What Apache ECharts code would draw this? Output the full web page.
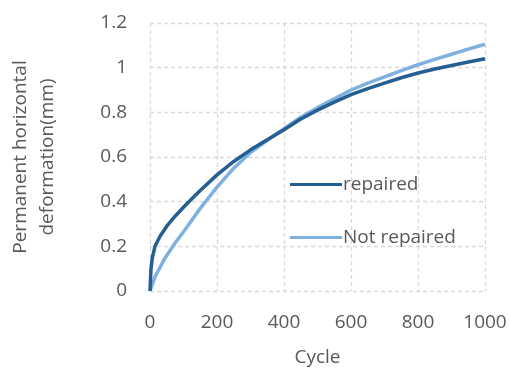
<!DOCTYPE html>
<html><head><meta charset="utf-8">
<script src="https://cdn.jsdelivr.net/npm/echarts@6/dist/echarts.min.js"></script>
<style>html,body{margin:0;padding:0;background:#fff}#c{width:509px;height:370px}</style>
</head><body><div id="c"></div>
<script>
const repairedCycles = [0,3,7,15,30,50,75,100,125,150,200,250,300,350,400,450,500,550,600,650,700,750,800,850,900,950,1000];
const repairedValues = [0,0.10,0.15,0.20,0.245,0.29,0.335,0.375,0.413,0.45,0.52,0.58,0.632,0.677,0.722,0.77,0.81,0.846,0.879,0.906,0.931,0.955,0.976,0.994,1.01,1.025,1.04];
const notRepairedCycles = [0,15,45,75,100,150,200,250,300,350,400,450,500,550,600,650,700,750,800,850,900,950,1000];
const notRepairedValues = [0,0.064,0.148,0.215,0.265,0.37,0.465,0.55,0.62,0.675,0.727,0.778,0.821,0.861,0.9,0.931,0.959,0.987,1.013,1.037,1.06,1.083,1.105];
const xTicks = {min:0, max:1000, interval:200};
const yTicks = {min:0, max:1.2, interval:0.2};

const zip = (a,b)=>a.map((x,i)=>[x,b[i]]);
const font = '"Open Sans", sans-serif';
const grey = '#595959';
const chart = echarts.init(document.getElementById('c'));
chart.setOption({
  animation:false,
  grid:{left:150, right:24, top:23, bottom:79, containLabel:false, outerBoundsMode:'none'},
  xAxis:{type:'value', min:xTicks.min, max:xTicks.max, interval:xTicks.interval,
    name:'Cycle', nameLocation:'middle', nameGap:57,
    nameTextStyle:{color:grey, fontSize:19, fontFamily:font},
    axisLine:{show:false}, axisTick:{show:false},
    axisLabel:{color:grey, fontSize:19, fontFamily:font, margin:22, formatter:v=>String(v)},
    splitLine:{show:true, lineStyle:{color:'#d9d9d9', type:[4,3], width:1.3}}},
  yAxis:{type:'value', min:yTicks.min, max:yTicks.max, interval:yTicks.interval,
    name:'Permanent horizontal\ndeformation(mm)', nameLocation:'middle', nameGap:89,
    nameTextStyle:{color:grey, fontSize:19, fontFamily:font, lineHeight:27},
    axisLine:{show:false}, axisTick:{show:false},
    axisLabel:{color:grey, fontSize:19, fontFamily:font, margin:23,
      formatter:v=>String(Math.round(v*10)/10)},
    splitLine:{show:true, lineStyle:{color:'#d9d9d9', type:[4,3], width:1.3}}},
  legend:{orient:'vertical', left:285, top:170, itemGap:34, itemWidth:52, itemHeight:12,
    textStyle:{color:grey, fontSize:19, fontFamily:font, padding:[0,0,0,-4]},
    data:[{name:'repaired', icon:'path://M0,5 L52,5 L52,8 L0,8 Z'},{name:'Not repaired', icon:'path://M0,5 L52,5 L52,8 L0,8 Z'}]},
  series:[
    {name:'repaired', type:'line', data:zip(repairedCycles,repairedValues), showSymbol:false, smooth:false,
      lineStyle:{color:'#255E91', width:3.5, join:'round'}, itemStyle:{color:'#255E91'}, z:3},
    {name:'Not repaired', type:'line', data:zip(notRepairedCycles,notRepairedValues), showSymbol:false, smooth:false,
      lineStyle:{color:'#7EB0E0', width:3.5, join:'round'}, itemStyle:{color:'#7EB0E0'}, z:2}
  ]
});
</script></body></html>
